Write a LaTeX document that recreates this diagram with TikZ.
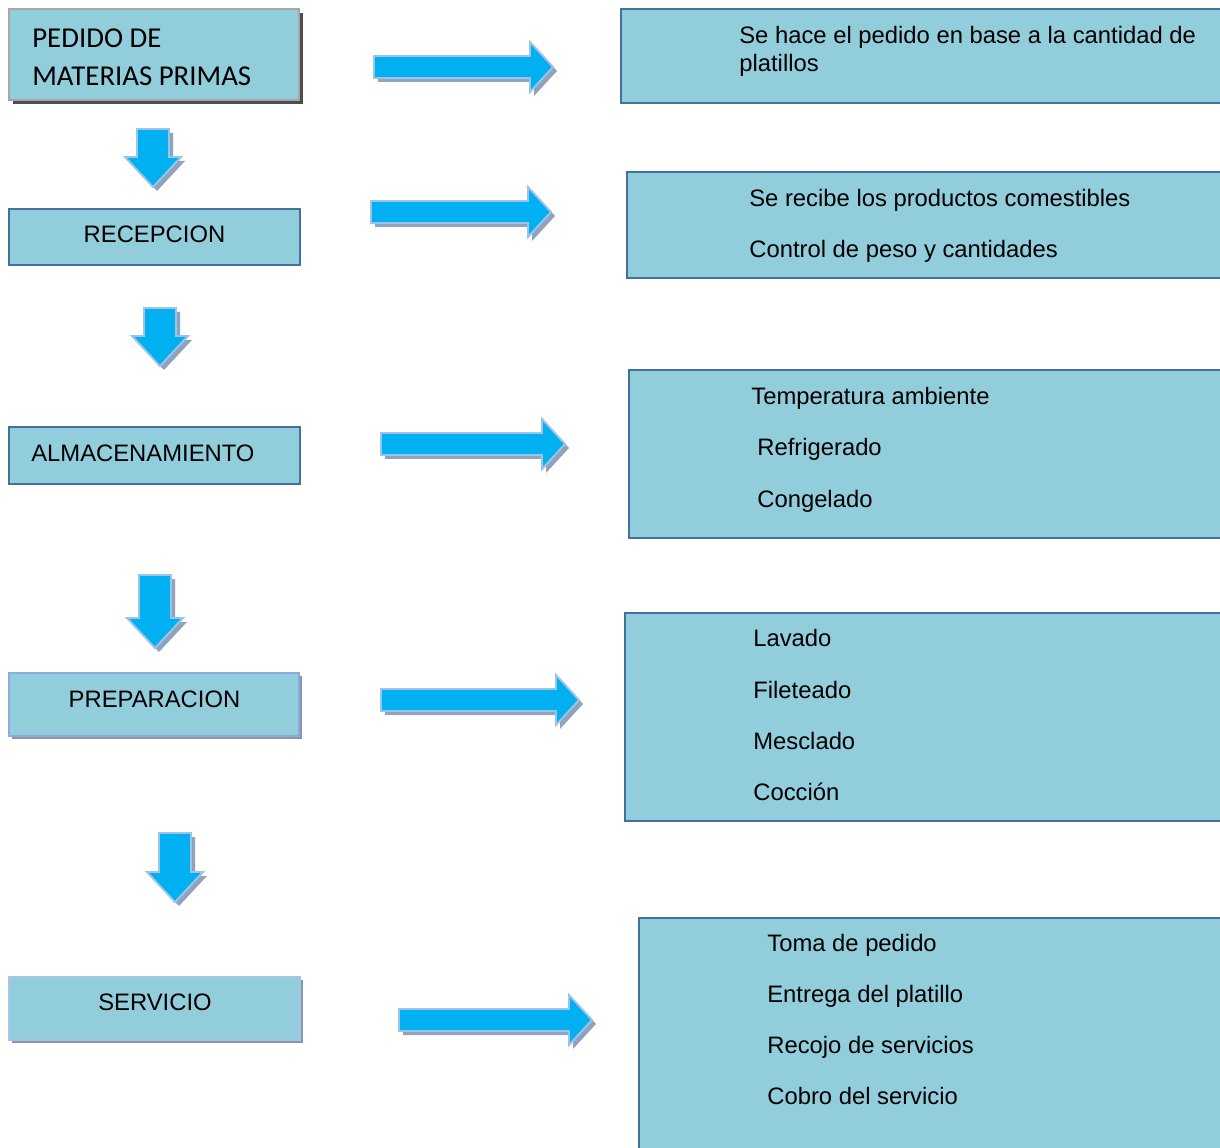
\documentclass[tikz,border=0pt]{standalone}
\usepackage{fontspec}
\setmainfont{Liberation Sans}
\newfontfamily\calibrifont{Carlito}
\usetikzlibrary{fit,shadows}

\definecolor{boxfill}{HTML}{92CDDC}
\definecolor{boxline}{HTML}{41719C}
\definecolor{greyline}{HTML}{A6A6A6}
\definecolor{greyshadow}{HTML}{4D4D4D}
\definecolor{paleline}{HTML}{8EAADB}
\definecolor{paleshadow}{HTML}{8496B0}
\definecolor{lightline}{HTML}{A9C4E6}
\definecolor{arrowfill}{HTML}{00B0F0}
\definecolor{arrowline}{HTML}{9DC3E6}
\definecolor{arrowshadow}{HTML}{8FA3BE}

\tikzset{
  box/.style={draw=boxline, fill=boxfill, line width=1.2pt, inner sep=0pt},
  greybox/.style={box, draw=greyline, line width=1.6pt,
    drop shadow={shadow xshift=0.08cm, shadow yshift=-0.08cm, fill=greyshadow, opacity=1}},
  palebox/.style={box, draw=paleline, line width=1.4pt,
    drop shadow={shadow xshift=0.06cm, shadow yshift=-0.06cm, fill=paleshadow, opacity=1}},
  lightbox/.style={box, draw=lightline, line width=1.4pt,
    drop shadow={shadow xshift=0.06cm, shadow yshift=-0.06cm, fill=paleshadow, opacity=1}},
  txt/.style={anchor=base west, inner sep=0pt, font=\fontsize{13.55}{16}\selectfont},
  ctxt/.style={anchor=base, inner sep=0pt, font=\fontsize{13.55}{16}\selectfont},
  caltxt/.style={anchor=base west, inner sep=0pt, font=\calibrifont\fontsize{16.4}{20}\selectfont},
  blockarrow/.style={fill=arrowfill, draw=arrowline, line width=1.1pt, line join=miter},
  arrowshade/.style={fill=arrowshadow},
}

% block arrow pointing right: start x, tip x, centre y, name
\newcommand\flowright[4]{%
  \coordinate (#4) at (#1,#3);
  \fill[arrowshade, shift={(4,4)}]
    (#1,{#3-11}) -- ({#2-23},{#3-11}) -- ({#2-23},{#3-25}) -- (#2,#3)
    -- ({#2-23},{#3+25}) -- ({#2-23},{#3+11}) -- (#1,{#3+11}) -- cycle;
  \draw[blockarrow]
    (#1,{#3-11}) -- ({#2-23},{#3-11}) -- ({#2-23},{#3-25}) -- (#2,#3)
    -- ({#2-23},{#3+25}) -- ({#2-23},{#3+11}) -- (#1,{#3+11}) -- cycle;
}
% block arrow pointing down: centre x, top y, tip y, name
\newcommand\flowdown[4]{%
  \coordinate (#4) at (#1,#2);
  \fill[arrowshade, shift={(4,4)}]
    ({#1-16},#2) -- ({#1+16},#2) -- ({#1+16},{#3-30}) -- ({#1+28},{#3-30})
    -- (#1,#3) -- ({#1-28},{#3-30}) -- ({#1-16},{#3-30}) -- cycle;
  \draw[blockarrow]
    ({#1-16},#2) -- ({#1+16},#2) -- ({#1+16},{#3-30}) -- ({#1+28},{#3-30})
    -- (#1,#3) -- ({#1-28},{#3-30}) -- ({#1-16},{#3-30}) -- cycle;
}

\begin{document}
\begin{tikzpicture}[x=0.02cm, y=-0.02cm]
  \clip (0,0) rectangle (1220,1148);
  \fill[white] (0,0) rectangle (1220,1148);

  % process steps (left column)
  \node[greybox, fit={(9,9)(299,100)}] (pedido) {};
  \node[caltxt] (pedidoA) at (32,48) {PEDIDO DE};
  \node[caltxt] (pedidoB) at (32,86) {MATERIAS PRIMAS};

  \node[box, fit={(9,209)(300,265)}] (recep) {};
  \node[ctxt] (recepT) at (154.5,243) {RECEPCION};

  \node[box, fit={(9,427)(300,484)}] (almac) {};
  \node[txt] (almacT) at (31,461) {ALMACENAMIENTO};

  \node[palebox, fit={(9,673)(299,736)}] (prep) {};
  \node[ctxt] (prepT) at (154.5,707) {PREPARACION};

  \node[lightbox, fit={(9,977)(300,1040)}] (serv) {};
  \node[ctxt] (servT) at (155,1010) {SERVICIO};

  % details (right column)
  \node[box, fit={(621,9)(1240,103)}] (d1) {};
  \node[txt] (d1a) at (739,44) {Se hace el pedido en base a la cantidad de};
  \node[txt] (d1b) at (739,72) {platillos};

  \node[box, fit={(627,172)(1240,278)}] (d2) {};
  \node[txt] (d2a) at (749,207) {Se recibe los productos comestibles};
  \node[txt] (d2b) at (749,258) {Control de peso y cantidades};

  \node[box, fit={(629,370)(1240,538)}] (d3) {};
  \node[txt] (d3a) at (751,405) {Temperatura ambiente};
  \node[txt] (d3b) at (757,456) {Refrigerado};
  \node[txt] (d3c) at (757,507) {Congelado};

  \node[box, fit={(625,613)(1240,821)}] (d4) {};
  \node[txt] (d4a) at (753,646) {Lavado};
  \node[txt] (d4b) at (753,698) {Fileteado};
  \node[txt] (d4c) at (753,749) {Mesclado};
  \node[txt] (d4d) at (753,800) {Cocción};

  \node[box, fit={(639,918)(1240,1170)}] (d5) {};
  \node[txt] (d5a) at (767,951) {Toma de pedido};
  \node[txt] (d5b) at (767,1002) {Entrega del platillo};
  \node[txt] (d5c) at (767,1053) {Recojo de servicios};
  \node[txt] (d5d) at (767,1104) {Cobro del servicio};

  % block arrows between the columns
  \flowright{374}{553}{67}{r1}
  \flowright{371}{551}{212}{r2}
  \flowright{381}{565}{444}{r3}
  \flowright{381}{579}{700}{r4}
  \flowright{399}{592}{1020}{r5}

  % block arrows down the process
  \flowdown{153}{129}{187}{v1}
  \flowdown{160}{308}{366}{v2}
  \flowdown{155}{575}{648}{v3}
  \flowdown{175}{833}{902}{v4}
\end{tikzpicture}
\end{document}
